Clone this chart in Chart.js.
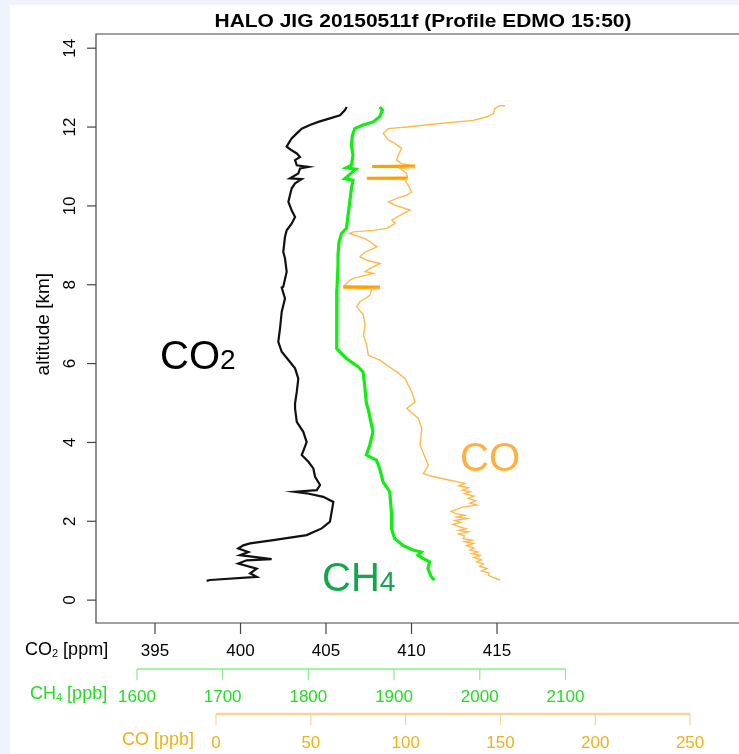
<!DOCTYPE html>
<html>
<head>
<meta charset="utf-8">
<script src="https://cdn.jsdelivr.net/npm/chart.js@4.4.1/dist/chart.umd.min.js"></script>
<style>
  html, body { margin: 0; padding: 0; background: #eef3fc; }
  #wrap { position: relative; width: 739px; height: 754px; }
</style>
</head>
<body>
<div id="wrap"><canvas id="chart"></canvas></div>
<script>
// Tick labels of the four axes
const altitudeTicks = [0, 2, 4, 6, 8, 10, 12, 14];
const co2Ticks = [395, 400, 405, 410, 415];
const ch4Ticks = [1600, 1700, 1800, 1900, 2000, 2100];
const coTicks = [0, 50, 100, 150, 200, 250];

// Profiles as [altitude km, mixing ratio]
const co2Profile = [
  [12.51, 406.21], [12.43, 406.11], [12.30, 405.82], [12.22, 405.23], [12.13, 404.55], [12.05, 404.06],
  [11.96, 403.58], [11.84, 403.29], [11.71, 402.99], [11.58, 402.80], [11.50, 402.70], [11.41, 402.99],
  [11.33, 403.29], [11.24, 403.48], [11.16, 403.19], [11.03, 403.29], [10.99, 403.97], [10.95, 403.48],
  [10.82, 403.38], [10.70, 402.89], [10.68, 403.58], [10.57, 403.19], [10.44, 402.99], [10.27, 402.89],
  [10.10, 402.80], [9.89, 402.99], [9.72, 403.19], [9.55, 402.99], [9.38, 402.70], [9.21, 402.60],
  [8.83, 402.50], [8.67, 402.60], [8.33, 402.70], [7.95, 402.50], [7.93, 402.41], [7.65, 402.60],
  [7.31, 402.41], [6.89, 402.31], [6.55, 402.21], [6.30, 402.41], [6.09, 402.80], [5.88, 403.19],
  [5.62, 403.38], [5.28, 403.29], [4.99, 403.19], [4.86, 403.19], [4.52, 403.29], [4.27, 403.67],
  [4.01, 403.87], [3.68, 403.58], [3.51, 403.97], [3.34, 404.26], [3.13, 404.36], [2.92, 404.65],
  [2.79, 404.46], [2.75, 403.19], [2.71, 403.87], [2.62, 404.84], [2.49, 405.43], [2.24, 405.33],
  [1.99, 405.23], [1.82, 404.75], [1.65, 403.87], [1.52, 401.92], [1.44, 400.56], [1.39, 400.16],
  [1.31, 399.87], [1.22, 400.46], [1.14, 399.97], [1.04, 401.82], [1.01, 400.36], [0.93, 399.87],
  [0.80, 400.95], [0.68, 400.56], [0.59, 400.95], [0.51, 398.22], [0.49, 398.02]
];
const ch4Profile = [
  [12.51, 1883.2], [12.43, 1886.4], [12.26, 1883.2], [12.13, 1875.4], [12.05, 1863.8], [11.96, 1854.1],
  [11.79, 1851.4], [11.54, 1850.2], [11.29, 1852.1], [11.03, 1850.2], [10.97, 1844.4], [10.93, 1855.2],
  [10.80, 1848.3], [10.69, 1842.4], [10.65, 1852.1], [10.44, 1850.2], [10.10, 1848.3], [9.76, 1846.3],
  [9.43, 1844.4], [9.30, 1838.6], [9.09, 1835.8], [8.75, 1834.6], [8.50, 1834.6], [7.90, 1833.4],
  [7.31, 1832.8], [6.38, 1833.4], [6.13, 1844.4], [5.92, 1857.9], [5.79, 1863.8], [5.45, 1865.7],
  [4.99, 1867.7], [4.86, 1869.6], [4.27, 1875.4], [3.93, 1871.6], [3.68, 1867.7], [3.55, 1879.4],
  [3.34, 1883.2], [3.00, 1887.1], [2.75, 1894.9], [2.24, 1896.9], [1.82, 1896.9], [1.56, 1900.7],
  [1.39, 1910.4], [1.27, 1922.0], [1.22, 1931.8], [1.14, 1927.9], [1.06, 1933.7], [0.97, 1941.5],
  [0.80, 1939.5], [0.59, 1943.5], [0.51, 1947.3]
];
const coProfile = [
  [12.54, 152.4], [12.54, 149.8], [12.47, 147.1], [12.34, 146.2], [12.26, 142.8], [12.17, 135.7],
  [12.09, 118.1], [12.00, 100.6], [11.96, 90.9], [11.84, 88.2], [11.67, 90.9], [11.58, 94.4],
  [11.46, 97.9], [11.29, 96.1], [11.16, 95.3], [11.07, 97.9], [11.01, 105.0], [11.00, 82.3],
  [10.99, 105.0], [10.95, 97.0], [10.82, 100.6], [10.71, 101.0], [10.70, 79.5], [10.69, 101.0],
  [10.65, 99.7], [10.52, 101.4], [10.35, 103.2], [10.27, 100.6], [10.19, 95.3], [10.10, 90.9],
  [10.02, 94.4], [9.89, 102.3], [9.76, 97.0], [9.64, 92.7], [9.55, 94.4], [9.43, 90.0],
  [9.38, 83.0], [9.34, 72.4], [9.30, 70.3], [9.17, 78.6], [9.09, 81.2], [8.96, 84.8],
  [8.83, 78.6], [8.71, 75.9], [8.62, 79.5], [8.54, 86.5], [8.41, 81.2], [8.33, 78.6],
  [8.29, 83.0], [8.16, 72.4], [8.12, 70.7], [7.95, 67.1], [7.94, 86.5], [7.93, 67.1],
  [7.92, 86.5], [7.90, 82.1], [7.73, 81.2], [7.57, 75.9], [7.44, 74.2], [7.23, 77.7],
  [6.97, 78.6], [6.72, 77.7], [6.47, 79.5], [6.21, 80.3], [6.09, 86.5], [5.96, 90.0],
  [5.79, 95.3], [5.62, 99.7], [5.45, 101.4], [5.28, 103.2], [5.03, 105.0], [4.86, 100.6],
  [4.61, 106.7], [4.35, 108.5], [3.93, 107.6], [3.42, 112.0], [3.21, 109.3], [3.13, 114.6],
  [3.04, 123.4], [2.96, 131.3], [2.90, 128.0], [2.85, 133.0], [2.79, 130.0], [2.75, 134.0],
  [2.70, 131.0], [2.64, 136.0], [2.58, 133.0], [2.52, 137.0], [2.46, 134.0], [2.41, 137.5],
  [2.36, 130.0], [2.30, 127.0], [2.25, 124.0], [2.20, 126.0], [2.15, 131.0], [2.11, 127.0],
  [2.07, 132.2], [2.02, 126.0], [1.97, 129.0], [1.92, 125.0], [1.86, 128.7], [1.81, 132.0],
  [1.77, 128.0], [1.73, 133.1], [1.68, 128.0], [1.63, 131.0], [1.56, 130.4], [1.52, 135.0],
  [1.48, 131.0], [1.44, 135.7], [1.38, 132.0], [1.32, 136.0], [1.27, 134.0], [1.22, 138.0],
  [1.18, 135.0], [1.14, 139.2], [1.08, 136.0], [1.02, 140.0], [0.97, 137.5], [0.92, 141.0],
  [0.86, 139.0], [0.80, 142.8], [0.74, 140.0], [0.69, 144.0], [0.63, 143.6], [0.58, 146.0],
  [0.51, 149.8]
];

const toPoints = prof => prof.map(p => ({ x: p[1], y: p[0] }));
const FONT = '"Liberation Sans", Arial, sans-serif';

// Text with an optional subscript piece: parts = [[text, size, dy], ...]
function drawParts(c, x, y, parts, color) {
  c.fillStyle = color;
  c.textAlign = "left";
  c.textBaseline = "alphabetic";
  parts.forEach(([t, size, dy]) => {
    c.font = `${size}px ${FONT}`;
    c.fillText(t, x, y + (dy || 0));
    x += c.measureText(t).width;
  });
}

// Horizontal axis with a line spanning first..last tick, ticks pointing down
function drawAxis(c, scale, ticks, y, lineColor, lineWidth, labelColor, labelY, withLine) {
  c.strokeStyle = lineColor;
  c.lineWidth = lineWidth;
  const x0 = scale.getPixelForValue(ticks[0]);
  const x1 = scale.getPixelForValue(ticks[ticks.length - 1]);
  if (withLine) {
    c.beginPath(); c.moveTo(x0, y); c.lineTo(x1, y); c.stroke();
  }
  c.lineWidth = 1.2;
  c.font = `17px ${FONT}`;
  c.textAlign = "center";
  c.textBaseline = "middle";
  ticks.forEach(v => {
    const px = scale.getPixelForValue(v);
    c.beginPath(); c.moveTo(px, y); c.lineTo(px, y + 11); c.stroke();
    c.fillStyle = labelColor;
    c.fillText(String(v), px, labelY);
  });
}

const decorations = {
  id: "decorations",
  beforeDraw(chart) {
    const c = chart.ctx;
    c.save();
    c.fillStyle = "#eef3fc";
    c.fillRect(0, 0, chart.width, chart.height);
    c.fillStyle = "#ffffff";
    c.fillRect(10, 5, chart.width - 10, chart.height - 5);
    c.restore();
  },
  afterDraw(chart) {
    const { ctx: c, chartArea: a, scales } = chart;
    c.save();

    // plot frame (right side runs off the picture)
    c.strokeStyle = "#444";
    c.lineWidth = 1.2;
    c.beginPath();
    c.moveTo(chart.width, a.top); c.lineTo(a.left, a.top);
    c.lineTo(a.left, a.bottom); c.lineTo(chart.width, a.bottom);
    c.stroke();

    // title, fitted to its width in the reference
    c.font = `bold 18px ${FONT}`;
    const title = "HALO JIG 20150511f (Profile EDMO 15:50)";
    const tw = c.measureText(title).width;
    c.save();
    c.translate(423, 27);
    c.scale(417 / tw, 1);
    c.fillStyle = "#000";
    c.textAlign = "center";
    c.textBaseline = "alphabetic";
    c.fillText(title, 0, 0);
    c.restore();

    // altitude axis
    c.strokeStyle = "#444";
    c.fillStyle = "#000";
    c.font = `17px ${FONT}`;
    c.textAlign = "center";
    c.textBaseline = "middle";
    altitudeTicks.forEach(t => {
      const py = scales.y.getPixelForValue(t);
      c.beginPath(); c.moveTo(a.left - 9, py); c.lineTo(a.left, py); c.stroke();
      c.save(); c.translate(70, py); c.rotate(-Math.PI / 2); c.fillText(String(t), 0, 0); c.restore();
    });
    c.save();
    c.translate(44, scales.y.getPixelForValue(7.0));
    c.rotate(-Math.PI / 2);
    c.font = `19px ${FONT}`;
    c.fillText("altitude [km]", 0, 0);
    c.restore();

    // the three concentration axes
    drawAxis(c, scales.x, co2Ticks, a.bottom, "#444", 1.2, "#000", 651, false);
    drawAxis(c, scales.xch4, ch4Ticks, 669, "#88ee88", 1.6, "#22dd22", 697, true);
    drawAxis(c, scales.xco, coTicks, 714, "#f6d49c", 2.6, "#ebb31a", 743, true);
    drawParts(c, 25, 655, [["CO", 18], ["2", 11, 2], [" [ppm]", 18]], "#000");
    drawParts(c, 30, 699, [["CH", 18], ["4", 11, 2], [" [ppb]", 18]], "#22dd22");
    drawParts(c, 122, 745, [["CO [ppb]", 18]], "#ebb31a");

    // in-plot species names
    drawParts(c, 160, 369, [["CO", 40], ["2", 28]], "#000");
    drawParts(c, 322, 591, [["CH", 40], ["4", 28]], "#12a84a");
    drawParts(c, 460, 471, [["CO", 40]], "#ffb040");
    c.restore();
  }
};

// the dense, near-level excursions in the CO record are drawn heavier
const isSpike = s => Math.abs(s.p0.y - s.p1.y) < 0.8 && Math.abs(s.p0.x - s.p1.x) > 20;

new Chart(document.getElementById("chart").getContext("2d"), {
  type: "scatter",
  data: {
    datasets: [
      { label: "CO", data: toPoints(coProfile), xAxisID: "xco", showLine: true, pointRadius: 0,
        borderColor: "#ffb84a", borderWidth: 1.4,
        segment: { borderWidth: s => isSpike(s) ? 3 : 1.4, borderColor: s => isSpike(s) ? "#ffa200" : "#ffb84a" } },
      { label: "CH4", data: toPoints(ch4Profile), xAxisID: "xch4", showLine: true, pointRadius: 0,
        borderColor: "#11ee11", borderWidth: 3.2 },
      { label: "CO2", data: toPoints(co2Profile), xAxisID: "x", showLine: true, pointRadius: 0,
        borderColor: "#111", borderWidth: 2.2 }
    ]
  },
  options: {
    responsive: true, maintainAspectRatio: false, animation: false,
    layout: { padding: { left: 96, top: 34, right: 0, bottom: 131 } },
    plugins: { legend: { display: false }, tooltip: { enabled: false } },
    scales: {
      x: { type: "linear", display: false, min: 391.55, max: 429.15 },
      xch4: { type: "linear", display: false, min: 1552.2, max: 2302.5 },
      xco: { type: "linear", display: false, min: -63.3, max: 275.8 },
      y: { type: "linear", display: false, min: -0.58, max: 14.36 }
    }
  },
  plugins: [decorations]
});
</script>
</body>
</html>
